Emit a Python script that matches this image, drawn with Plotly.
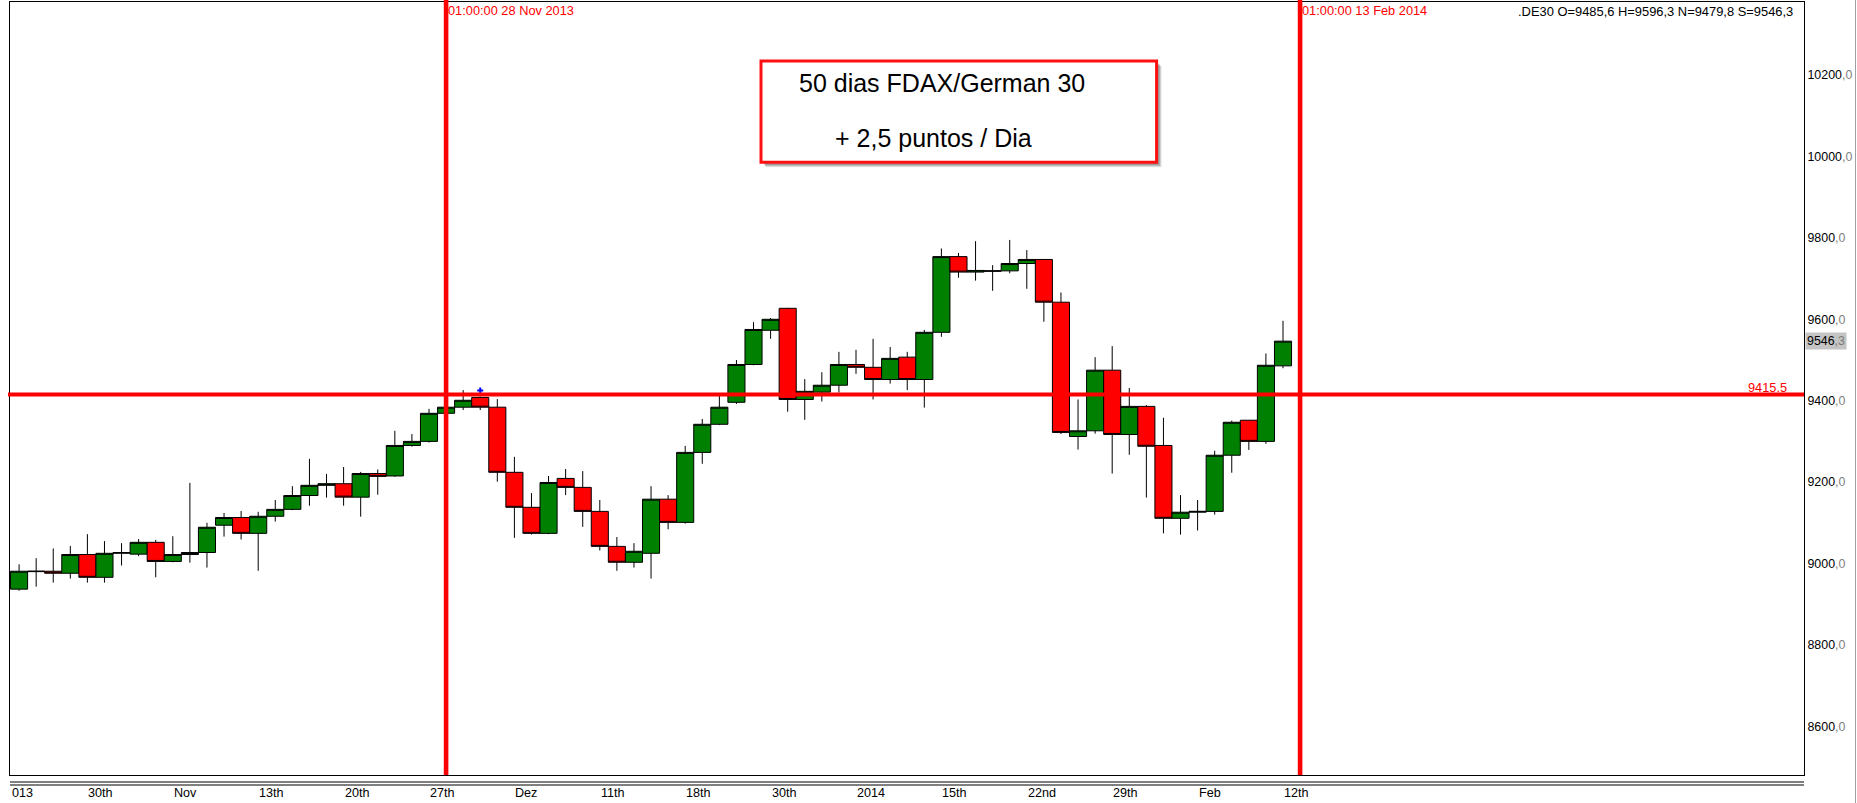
import plotly.graph_objects as go

# ---------------- data ----------------
dates = [
    "2013-10-24", "2013-10-25", "2013-10-28", "2013-10-29", "2013-10-30", "2013-10-31",
    "2013-11-01", "2013-11-04", "2013-11-05", "2013-11-06", "2013-11-07", "2013-11-08",
    "2013-11-11", "2013-11-12", "2013-11-13", "2013-11-14", "2013-11-15", "2013-11-18",
    "2013-11-19", "2013-11-20", "2013-11-21", "2013-11-22", "2013-11-25", "2013-11-26",
    "2013-11-27", "2013-11-28", "2013-11-29", "2013-12-02", "2013-12-03", "2013-12-04",
    "2013-12-05", "2013-12-06", "2013-12-09", "2013-12-10", "2013-12-11", "2013-12-12",
    "2013-12-13", "2013-12-16", "2013-12-17", "2013-12-18", "2013-12-19", "2013-12-20",
    "2013-12-23", "2013-12-27", "2013-12-30", "2014-01-02", "2014-01-03", "2014-01-06",
    "2014-01-07", "2014-01-08", "2014-01-09", "2014-01-10", "2014-01-13", "2014-01-14",
    "2014-01-15", "2014-01-16", "2014-01-17", "2014-01-20", "2014-01-21", "2014-01-22",
    "2014-01-23", "2014-01-24", "2014-01-27", "2014-01-28", "2014-01-29", "2014-01-30",
    "2014-01-31", "2014-02-03", "2014-02-04", "2014-02-05", "2014-02-06", "2014-02-07",
    "2014-02-10", "2014-02-11", "2014-02-12",
]
opens = [
    8937, 8980, 8981, 8976, 9022, 8966, 9025, 9023, 9052, 9005, 9022, 9027,
    9094, 9113, 9074, 9116, 9133, 9167, 9192, 9196, 9163, 9221, 9215, 9290,
    9300, 9369, 9384, 9408, 9384, 9224, 9138, 9074, 9209, 9187, 9128, 9042,
    9003, 9025, 9158, 9101, 9273, 9342, 9396, 9489, 9573, 9627, 9403, 9421,
    9438, 9489, 9482, 9452, 9507, 9452, 9568, 9754, 9716, 9718, 9719, 9737,
    9747, 9642, 9312, 9326, 9475, 9317, 9386, 9290, 9111, 9126, 9128, 9266,
    9352, 9300, 9485.6,
]
highs = [
    8998, 9013, 9037, 9043, 9072, 9055, 9050, 9060, 9058, 9067, 9198, 9100,
    9124, 9129, 9127, 9156, 9190, 9257, 9220, 9237, 9225, 9231, 9326, 9318,
    9380, 9390, 9426, 9410, 9404, 9262, 9173, 9215, 9232, 9227, 9156, 9065,
    9050, 9190, 9168, 9289, 9355, 9412, 9500, 9593, 9603, 9628, 9453, 9470,
    9520, 9525, 9552, 9532, 9520, 9574, 9774, 9763, 9792, 9733, 9795, 9770,
    9748, 9666, 9403, 9507, 9534, 9431, 9389, 9358, 9168, 9156, 9277, 9351,
    9352, 9516, 9596.3,
]
lows = [
    8933, 8943, 8953, 8963, 8953, 8953, 8995, 9018, 8966, 9003, 9002, 8990,
    9066, 9059, 8982, 9103, 9131, 9142, 9162, 9142, 9115, 9169, 9213, 9287,
    9297, 9365, 9377, 9377, 9201, 9063, 9071, 9072, 9168, 9090, 9032, 8982,
    8990, 8963, 9084, 9098, 9245, 9340, 9392, 9487, 9552, 9373, 9353, 9398,
    9420, 9466, 9403, 9442, 9426, 9383, 9557, 9702, 9695, 9670, 9713, 9675,
    9594, 9318, 9280, 9319, 9221, 9267, 9162, 9074, 9071, 9081, 9120, 9223,
    9279, 9294, 9479.8,
]
closes = [
    8981, 8981, 8976, 9022, 8966, 9025, 9027, 9052, 9005, 9022, 9027, 9089,
    9113, 9074, 9116, 9133, 9167, 9192, 9196, 9163, 9221, 9214, 9290, 9300,
    9369, 9384, 9401, 9384, 9224, 9138, 9074, 9199, 9187, 9128, 9042, 9003,
    9030, 9158, 9101, 9273, 9342, 9384, 9489, 9575, 9600, 9403, 9423, 9438,
    9489, 9482, 9452, 9504, 9452, 9568, 9754, 9716, 9720, 9719, 9737, 9747,
    9642, 9322, 9326, 9475, 9317, 9386, 9288, 9111, 9126, 9128, 9266, 9347,
    9300, 9487, 9546.3,
]

# trading-session calendar (bar slots), one before and one after the data
sessions = ["2013-10-23"] + dates + ["2014-02-13"]

tick_dates = ["2013-10-23", "2013-10-30", "2013-11-06", "2013-11-13", "2013-11-20",
              "2013-11-27", "2013-12-04", "2013-12-11", "2013-12-18", "2013-12-30",
              "2014-01-08", "2014-01-15", "2014-01-22", "2014-01-29", "2014-02-05",
              "2014-02-12"]
tick_text = ["013", "30th", "Nov", "13th", "20th", "27th", "Dez", "11th", "18th", "30th",
             "2014", "15th", "22nd", "29th", "Feb", "12th"]

y_ticks = [8600, 8800, 9000, 9200, 9400, 9600, 9800, 10000, 10200]

vline_dates = ["2013-11-28", "2014-02-13"]
vline_labels = ["01:00:00 28 Nov 2013", "01:00:00 13 Feb 2014"]
hline_value = 9415.5
marker_date = "2013-12-02"
marker_value = 9425
symbol = ".DE30"
box_lines = ["50 dias FDAX/German 30", "+ 2,5 puntos / Dia"]

# ---------------- layout geometry ----------------
W, H = 1857, 803
PX_L, PX_R, PX_T, PX_B = 10, 1804, 2, 775
BAR_PX = 17.08
FIRST_BAR_PX = 2.0
Y_MIN, Y_MAX = 8480.3, 10379.6

def px_x(px):
    return (px - PX_L) / (PX_R - PX_L)

def px_y(py):
    return (PX_B - py) / (PX_B - PX_T)

x_range = [(PX_L - FIRST_BAR_PX) / BAR_PX, (PX_R - FIRST_BAR_PX) / BAR_PX]

SMALL = "Liberation Sans, Arial, sans-serif"
REG = "Liberation Sans, Arial, sans-serif"

def comma(v):
    return f"{v:.1f}".replace(".", ",")

def two_tone(v):
    a, b = f"{v:.1f}".split(".")
    return f"{a}<span style='color:#808080'>,{b}</span>"

xpos = [sessions.index(d) for d in dates]

fig = go.Figure()
fig.add_trace(go.Candlestick(
    x=xpos, open=opens, high=highs, low=lows, close=closes,
    increasing=dict(fillcolor="#008000", line=dict(color="black", width=1)),
    decreasing=dict(fillcolor="#FF0000", line=dict(color="black", width=1)),
    whiskerwidth=0, hoverinfo="skip", showlegend=False,
))
fig.add_trace(go.Scatter(
    x=[sessions.index(marker_date)], y=[marker_value], mode="markers",
    marker=dict(symbol="cross", size=5, color="#0000FF"),
    hoverinfo="skip", showlegend=False,
))

shapes = []
# horizontal level
shapes.append(dict(type="line", xref="paper", yref="y", x0=px_x(8), x1=1,
                   y0=hline_value, y1=hline_value, line=dict(color="#FF0000", width=4),
                   layer="above"))
# vertical time lines
for d in vline_dates:
    xv = sessions.index(d)
    shapes.append(dict(type="line", xref="x", yref="paper", x0=xv, x1=xv,
                       y0=0, y1=1.01, line=dict(color="#FF0000", width=4.6), layer="above"))
# double line below plot
for py in (782, 785):
    shapes.append(dict(type="line", xref="paper", yref="paper", x0=0, x1=1,
                       y0=px_y(py), y1=px_y(py), line=dict(color="black", width=1)))
# right edge line
shapes.append(dict(type="line", xref="paper", yref="paper", x0=px_x(1855.5), x1=px_x(1855.5),
                   y0=px_y(803), y1=px_y(0), line=dict(color="#A0A0A0", width=1)))
# text box shadow + box
for off, alpha in ((5, 0.10), (4, 0.15), (3, 0.20)):
    shapes.append(dict(type="rect", xref="paper", yref="paper",
                       x0=px_x(761 + off), x1=px_x(1156.6 + off),
                       y0=px_y(162.3 + off), y1=px_y(61 + off),
                       fillcolor=f"rgba(0,0,0,{alpha})", line=dict(width=0), layer="above"))
shapes.append(dict(type="rect", xref="paper", yref="paper",
                   x0=px_x(761), x1=px_x(1156.6), y0=px_y(162.3), y1=px_y(61),
                   fillcolor="white", line=dict(color="#FF1010", width=3), layer="above"))

ann = []
for d, t in zip(tick_dates, tick_text):
    xv = sessions.index(d)
    if xv < x_range[0]:
        ann.append(dict(text=t, xref="paper", x=0, yref="paper", y=px_y(793),
                        xanchor="left", yanchor="middle", showarrow=False,
                        font=dict(family=SMALL, size=12.6, color="black")))
    else:
        ann.append(dict(text=t, xref="x", x=xv, xshift=-1, yref="paper", y=px_y(793),
                        xanchor="left", yanchor="middle", showarrow=False,
                        font=dict(family=SMALL, size=12.6, color="black")))
for d, t in zip(vline_dates, vline_labels):
    ann.append(dict(text=t, xref="x", x=sessions.index(d), xshift=0, yref="paper", y=px_y(10.4),
                    xanchor="left", yanchor="middle", showarrow=False,
                    font=dict(family=SMALL, size=12.8, color="#FF0000")))
ann.append(dict(
    text=f"{symbol} O={comma(opens[-1])} H={comma(highs[-1])} N={comma(lows[-1])} S={comma(closes[-1])}",
    xref="paper", x=px_x(1795), yref="paper", y=px_y(11.3), xanchor="right", yanchor="middle",
    showarrow=False, font=dict(family=SMALL, size=12.9, color="black")))
ann.append(dict(text=f"{hline_value}", xref="paper", x=px_x(1789), yref="y", y=hline_value,
                yshift=7, xanchor="right", yanchor="middle", showarrow=False,
                font=dict(family=SMALL, size=12.8, color="#FF0000")))
last = closes[-1]
a, b = f"{last:.1f}".split(".")
ann.append(dict(text=f"{a}<span style='color:#7a7a7a'>,{b}</span>", xref="paper", x=px_x(1805),
                yref="y", y=last, xanchor="left", yanchor="middle", showarrow=False,
                bgcolor="#C4C4C4", borderpad=1,
                font=dict(family=SMALL, size=12.4, color="black")))
ann.append(dict(text=box_lines[0], xref="paper", x=px_x(797), yref="paper", y=px_y(82.5),
                xanchor="left", yanchor="middle", showarrow=False,
                font=dict(family=REG, size=25, color="black")))
ann.append(dict(text=box_lines[1], xref="paper", x=px_x(832.5), yref="paper", y=px_y(137.8),
                xanchor="left", yanchor="middle", showarrow=False,
                font=dict(family=REG, size=25, color="black")))

fig.update_layout(
    width=W, height=H, autosize=False,
    margin=dict(l=PX_L, r=W - PX_R, t=PX_T, b=H - PX_B, pad=0),
    paper_bgcolor="white", plot_bgcolor="white",
    boxgap=0, boxgroupgap=0,
    showlegend=False,
    shapes=shapes, annotations=ann,
    xaxis=dict(range=x_range, rangeslider=dict(visible=False), showgrid=False,
               zeroline=False, showticklabels=False, ticks="", showline=True,
               mirror=True, linecolor="black", linewidth=1, fixedrange=True,
               automargin=False),
    yaxis=dict(range=[Y_MIN, Y_MAX], side="right", tickvals=y_ticks,
               ticktext=[two_tone(v) for v in y_ticks], showgrid=False, zeroline=False,
               ticks="", showline=True, mirror=True, linecolor="black", linewidth=1,
               tickfont=dict(family=SMALL, size=12.4, color="black"), fixedrange=True,
               automargin=False),
)

fig.write_html("out.html", include_plotlyjs=True, full_html=True,
               config={"displayModeBar": False, "staticPlot": True},
               post_script="document.body.style.margin='0';document.body.style.overflow='hidden';")
